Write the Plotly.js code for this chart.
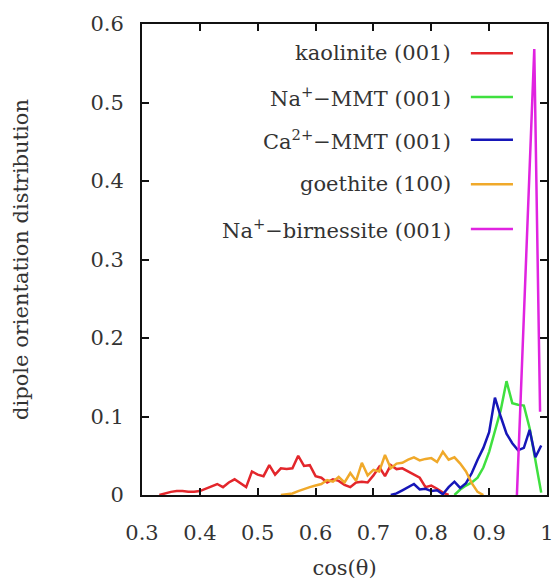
<!DOCTYPE html>
<html>
<head>
<meta charset="utf-8">
<script src="https://cdn.plot.ly/plotly-3.0.1.min.js"></script>
<style>html,body{margin:0;padding:0;background:#fff;}#chart{width:556px;height:584px;}</style>
</head>
<body>
<div id="chart"></div>
<script>
// ---- data ----
const kaoliniteX = [0.33,0.34,0.35,0.36,0.37,0.38,0.39,0.40,0.41,0.42,0.43,0.44,0.45,0.46,0.47,0.48,0.49,0.50,0.51,0.52,0.53,0.54,0.55,0.56,0.57,0.58,0.59,0.60,0.61,0.62,0.63,0.64,0.65,0.66,0.67,0.68,0.69,0.70,0.71,0.72,0.73,0.74,0.75,0.76,0.77,0.78,0.79,0.80,0.81,0.82,0.83];
const kaoliniteY = [0,0.002,0.004,0.005,0.005,0.004,0.004,0.005,0.008,0.010,0.014,0.010,0.016,0.020,0.015,0.010,0.030,0.026,0.024,0.038,0.026,0.034,0.033,0.034,0.050,0.037,0.038,0.024,0.022,0.016,0.020,0.018,0.013,0.010,0.016,0.017,0.016,0.025,0.036,0.024,0.038,0.033,0.034,0.030,0.025,0.022,0.010,0.012,0.008,0.003,0];

const naMMTX = [0.84,0.85,0.86,0.87,0.88,0.89,0.90,0.91,0.92,0.93,0.94,0.95,0.96,0.97,0.98,0.99];
const naMMTY = [0,0.007,0.012,0.016,0.022,0.035,0.055,0.080,0.108,0.145,0.117,0.115,0.114,0.085,0.045,0.003];

const caMMTX = [0.73,0.74,0.75,0.76,0.77,0.78,0.79,0.80,0.81,0.82,0.83,0.84,0.85,0.86,0.87,0.88,0.89,0.90,0.91,0.92,0.93,0.94,0.95,0.96,0.97,0.98,0.99];
const caMMTY = [0,0.002,0.006,0.010,0.014,0.007,0.008,0.005,0.006,0.001,0.010,0.017,0.009,0.015,0.028,0.045,0.060,0.080,0.124,0.100,0.078,0.066,0.057,0.060,0.083,0.048,0.063];

const goethiteX = [0.54,0.55,0.56,0.57,0.58,0.59,0.60,0.61,0.62,0.63,0.64,0.65,0.66,0.67,0.68,0.69,0.70,0.71,0.72,0.73,0.74,0.75,0.76,0.77,0.78,0.79,0.80,0.81,0.82,0.83,0.84,0.85,0.86,0.87,0.88,0.89];
const goethiteY = [0,0.001,0.002,0.005,0.008,0.010,0.012,0.014,0.019,0.017,0.023,0.016,0.028,0.018,0.041,0.025,0.032,0.030,0.051,0.034,0.040,0.041,0.045,0.048,0.044,0.046,0.047,0.042,0.055,0.045,0.048,0.040,0.030,0.015,0.004,0];

const birnessiteX = [0.948,0.978,0.988];
const birnessiteY = [0,0.568,0.106];

const seriesNames = ['kaolinite (001)','Na<sup>+</sup>−MMT (001)','Ca<sup>2+</sup>−MMT (001)','goethite (100)','Na<sup>+</sup>−birnessite (001)'];
const seriesColors = ['#e3262b','#3fe03f','#1616b8','#f0a92a','#e023e0'];
const xTicks = [0.3,0.4,0.5,0.6,0.7,0.8,0.9,1];
const xTickText = ['0.3','0.4','0.5','0.6','0.7','0.8','0.9','1'];
const yTicks = [0,0.1,0.2,0.3,0.4,0.5,0.6];
const yTickText = ['0','0.1','0.2','0.3','0.4','0.5','0.6'];

const xs = [kaoliniteX, naMMTX, caMMTX, goethiteX, birnessiteX];
const ys = [kaoliniteY, naMMTY, caMMTY, goethiteY, birnessiteY];

const traces = xs.map((x,i)=>({
  x:x, y:ys[i], type:'scatter', mode:'lines', name:seriesNames[i],
  line:{color:seriesColors[i], width:2.5}, showlegend:false
}));

const font = {family:'"DejaVu Serif", serif', size:21, color:'#333'};

// legend drawn as text + sample lines (key on the right side of the text)
const rowY = [0.938,0.845,0.754,0.660,0.565];
const annotations = seriesNames.map((n,i)=>({
  text:n, xref:'paper', yref:'paper', x:0.768, y:rowY[i], xanchor:'right', yanchor:'middle',
  showarrow:false, font:font
}));
const shapes = seriesColors.map((c,i)=>({
  type:'line', xref:'paper', yref:'paper', x0:0.812, x1:0.916, y0:rowY[i], y1:rowY[i],
  line:{color:c, width:2.5}
}));

const layout = {
  width:556, height:584,
  margin:{l:142, r:9, t:24, b:89},
  paper_bgcolor:'#fff', plot_bgcolor:'#fff',
  font:font,
  showlegend:false,
  xaxis:{
    range:[0.3,1.0], tickvals:xTicks, ticktext:xTickText,
    ticks:'inside', ticklen:7, tickwidth:2, tickcolor:'#111',
    showline:true, linecolor:'#111', linewidth:2, mirror:'ticks',
    showgrid:false, zeroline:false, ticklabelstandoff:18,
    tickfont:font,
    title:{text:'cos(θ)', font:font, standoff:16}
  },
  yaxis:{
    range:[0,0.6], tickvals:yTicks, ticktext:yTickText,
    ticks:'inside', ticklen:7, tickwidth:2, tickcolor:'#111',
    showline:true, linecolor:'#111', linewidth:2, mirror:'ticks',
    showgrid:false, zeroline:false, ticklabelstandoff:12,
    tickfont:font,
    title:{text:'dipole orientation distribution', font:font, standoff:56}
  },
  annotations:annotations,
  shapes:shapes
};
Plotly.newPlot('chart', traces, layout, {displayModeBar:false, staticPlot:true});
</script>
</body>
</html>
